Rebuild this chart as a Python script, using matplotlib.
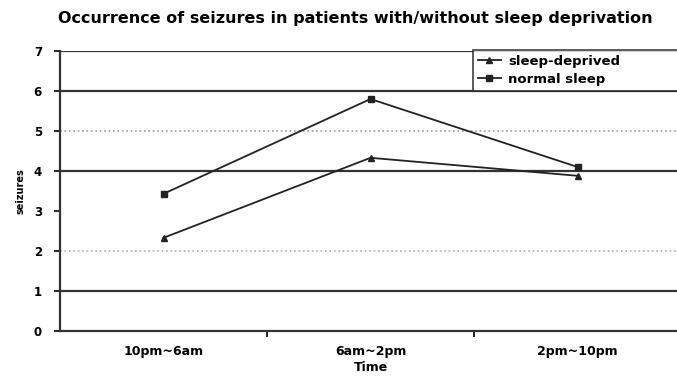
import matplotlib
matplotlib.use("Agg")
import matplotlib.pyplot as plt
from matplotlib.ticker import FixedLocator

categories = ["10pm~6am", "6am~2pm", "2pm~10pm"]
sleep_deprived = [2.33, 4.33, 3.88]
normal_sleep = [3.43, 5.8, 4.1]
y_ticks = [0, 1, 2, 3, 4, 5, 6, 7]

fig = plt.figure(figsize=(6.77, 3.79), dpi=100)
ax = fig.add_axes([60/677, 1-331/379, 617/677 + 0.006, 280/379])

# gridlines (as they appear on the reference)
grid_styles = {7: ("-", "#333333", 1.6), 6: ("-", "#333333", 1.6), 5: (":", "#999999", 1.2),
               4: ("-", "#333333", 1.6), 2: (":", "#aaaaaa", 1.2), 1: ("-", "#333333", 1.6)}
for yv, (ls, c, lw) in grid_styles.items():
    ax.axhline(yv, ls=ls, color=c, lw=lw, zorder=1)

x = list(range(len(categories)))
ax.plot(x, sleep_deprived, color="#222222", lw=1.3, marker="^", ms=5, label="sleep-deprived", zorder=3)
ax.plot(x, normal_sleep, color="#222222", lw=1.3, marker="s", ms=4.5, label="normal sleep", zorder=3)

ax.set_xlim(-0.5, 2.5)
ax.set_ylim(0, 7)
ax.set_yticks(y_ticks)
ax.set_xticks(x)
ax.set_xticklabels(categories)
ax.xaxis.set_minor_locator(FixedLocator([0.5, 1.5]))
ax.tick_params(axis="x", which="major", length=0, pad=10, labelsize=9)
ax.tick_params(axis="x", which="minor", length=4, width=1.2, direction="out")
ax.tick_params(axis="y", length=4, width=1.2, labelsize=8.5, pad=9)
for s in ["top", "right"]:
    ax.spines[s].set_visible(False)
ax.spines["left"].set_linewidth(1.6)
ax.spines["bottom"].set_linewidth(1.6)
ax.spines["left"].set_color("#333333")
ax.spines["bottom"].set_color("#333333")

ax.set_xlabel("Time", fontsize=9, fontweight="bold", labelpad=2)
ax.set_ylabel("seizures", fontsize=7, fontweight="bold", labelpad=6)
for lbl in ax.get_xticklabels() + ax.get_yticklabels():
    lbl.set_fontweight("bold")

fig.suptitle("Occurrence of seizures in patients with/without sleep deprivation",
             fontsize=11.5, fontweight="bold", x=0.525, y=0.97)

leg = ax.legend(loc="upper left", bbox_to_anchor=(0.665, 1.003, 0.34, 0.0), mode="expand",
                frameon=True, fancybox=False, edgecolor="#222222", borderpad=0.35,
                handlelength=1.8, handletextpad=0.5, labelspacing=0.4, borderaxespad=0.0,
                prop={"weight": "bold", "size": 9.5})
leg.get_frame().set_linewidth(1.3)

fig.savefig("out.png", dpi=100)
